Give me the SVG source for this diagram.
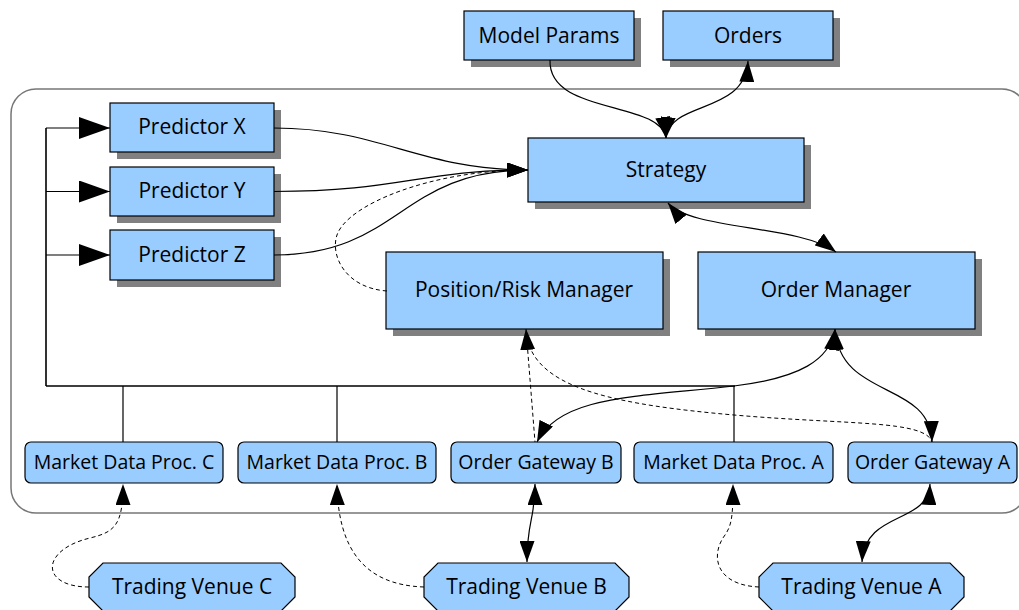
<svg xmlns="http://www.w3.org/2000/svg" width="1019" height="610" viewBox="0 0 1019 610">
<style>
.box{fill:#99ccff;stroke:#000;stroke-width:1.2}
.sh{fill:#808080}
.t{font-family:"Open Sans","DejaVu Sans",sans-serif;font-size:21px;fill:#000;text-anchor:middle}
.ts{font-family:"Open Sans","DejaVu Sans",sans-serif;font-size:19.5px;fill:#000;text-anchor:middle}
.c{fill:none;stroke:#000;stroke-width:1.2}
.d{fill:none;stroke:#000;stroke-width:1;stroke-dasharray:4,3}
.bus{fill:none;stroke:#000;stroke-width:1.6}
</style>
<defs>
<marker id="ah" viewBox="0 0 21 15" refX="21" refY="7.5" markerWidth="21" markerHeight="15" markerUnits="userSpaceOnUse" orient="auto-start-reverse"><path d="M0,0 L21,7.5 L0,15 z" fill="#000"/></marker>
<marker id="big" viewBox="0 0 31 22" refX="31" refY="11" markerWidth="31" markerHeight="22" markerUnits="userSpaceOnUse" orient="auto"><path d="M0,0 L31,11 L0,22 z" fill="#000"/></marker>
</defs>
<rect width="1019" height="610" fill="#fff"/>
<g id="cluster"><rect x="11" y="89" width="1016" height="424" rx="25" ry="25" fill="none" stroke="#777" stroke-width="1.5"/></g>

<g id="model-params"><rect class="sh" x="471" y="18" width="170" height="49"/><rect class="box" x="464" y="11" width="170" height="49"/><text class="t" x="549" y="43">Model Params</text></g>
<g id="orders"><rect class="sh" x="670" y="18" width="170" height="49"/><rect class="box" x="663" y="11" width="170" height="49"/><text class="t" x="748" y="43">Orders</text></g>
<g id="strategy"><rect class="sh" x="535" y="145" width="276" height="64"/><rect class="box" x="528" y="138" width="276" height="64"/><text class="t" x="666" y="177">Strategy</text></g>
<g id="predictor-x"><rect class="sh" x="117" y="110" width="164" height="49"/><rect class="box" x="110" y="103" width="164" height="49"/><text class="t" x="192" y="134">Predictor X</text></g>
<g id="predictor-y"><rect class="sh" x="117" y="174" width="164" height="49"/><rect class="box" x="110" y="167" width="164" height="49"/><text class="t" x="192" y="198">Predictor Y</text></g>
<g id="predictor-z"><rect class="sh" x="117" y="237" width="164" height="50"/><rect class="box" x="110" y="230" width="164" height="50"/><text class="t" x="192" y="262">Predictor Z</text></g>
<g id="position-risk-manager"><rect class="sh" x="393" y="259" width="277" height="77"/><rect class="box" x="386" y="252" width="277" height="77"/><text class="t" x="524" y="297">Position/Risk Manager</text></g>
<g id="order-manager"><rect class="sh" x="705" y="259" width="277" height="77"/><rect class="box" x="698" y="252" width="277" height="77"/><text class="t" x="836" y="297">Order Manager</text></g>

<g id="market-data-proc-c"><rect class="box" x="25" y="442" width="198" height="41" rx="6"/><text class="ts" x="124" y="469">Market Data Proc. C</text></g>
<g id="market-data-proc-b"><rect class="box" x="238" y="442" width="198" height="41" rx="6"/><text class="ts" x="337" y="469">Market Data Proc. B</text></g>
<g id="order-gateway-b"><rect class="box" x="451" y="442" width="170" height="41" rx="6"/><text class="ts" x="536" y="469">Order Gateway B</text></g>
<g id="market-data-proc-a"><rect class="box" x="634" y="442" width="199" height="41" rx="6"/><text class="ts" x="733.5" y="469">Market Data Proc. A</text></g>
<g id="order-gateway-a"><rect class="box" x="848" y="442" width="169" height="41" rx="6"/><text class="ts" x="932.5" y="469">Order Gateway A</text></g>

<g id="trading-venue-c"><polygon class="box" points="103,563 281,563 295,577 295,597 281,611 103,611 89,597 89,577"/><text class="t" x="192" y="594">Trading Venue C</text></g>
<g id="trading-venue-b"><polygon class="box" points="438,563 615,563 629,577 629,597 615,611 438,611 424,597 424,577"/><text class="t" x="526.5" y="594">Trading Venue B</text></g>
<g id="trading-venue-a"><polygon class="box" points="773,563 950,563 964,577 964,597 950,611 773,611 759,597 759,577"/><text class="t" x="861.5" y="594">Trading Venue A</text></g>

<g id="connectors">
<path class="bus" d="M46,386 V128 M46,386 H735"/>
<path class="c" d="M46,128 H110" marker-end="url(#big)"/>
<path class="c" d="M46,191.5 H110" marker-end="url(#big)"/>
<path class="c" d="M46,255 H110" marker-end="url(#big)"/>
<path class="c" d="M123,386 V442 M337,386 V442 M734,386 V442"/>

<path class="c" d="M274,128 C380,128 420,170 528,170" marker-end="url(#ah)"/>
<path class="c" d="M274,191.5 C400,191.5 420,170 528,170" marker-end="url(#ah)"/>
<path class="c" d="M274,255 C400,255 400,170 528,170" marker-end="url(#ah)"/>
<path class="d" d="M387,291 C345,288 330,255 337,235 C347,205 430,170 528,170"/>

<path class="c" d="M550,60 C548,115 660,100 666,138" marker-end="url(#ah)"/>
<path class="c" d="M666,138 C670,100 745,115 748,61" marker-start="url(#ah)" marker-end="url(#ah)"/>
<path class="c" d="M668,203 C690,230 800,225 836,252" marker-start="url(#ah)" marker-end="url(#ah)"/>

<path class="c" d="M835,329 C830,360 800,378 734,386 C640,397 560,395 537,442" marker-start="url(#ah)" marker-end="url(#ah)"/>
<path class="c" d="M835,329 C840,400 930,380 932,442" marker-start="url(#ah)" marker-end="url(#ah)"/>

<path class="d" d="M526,329 L535,442" marker-start="url(#ah)"/>
<path class="d" d="M529,345 C545,390 620,405 734,415 C850,425 925,420 932,442"/>

<path class="d" d="M89,587 C40,587 40,550 90,538 C115,532 123,525 123,484" marker-end="url(#ah)"/>
<path class="d" d="M424,587 C365,585 338,550 337,484" marker-end="url(#ah)"/>
<path class="c" d="M535,484 C535,520 527,520 527,562" marker-start="url(#ah)" marker-end="url(#ah)"/>
<path class="d" d="M759,587 C715,585 710,555 725,535 C732,525 733,515 733,484" marker-end="url(#ah)"/>
<path class="c" d="M930,484 C928,525 865,510 862,562" marker-start="url(#ah)" marker-end="url(#ah)"/>
</g>
</svg>
